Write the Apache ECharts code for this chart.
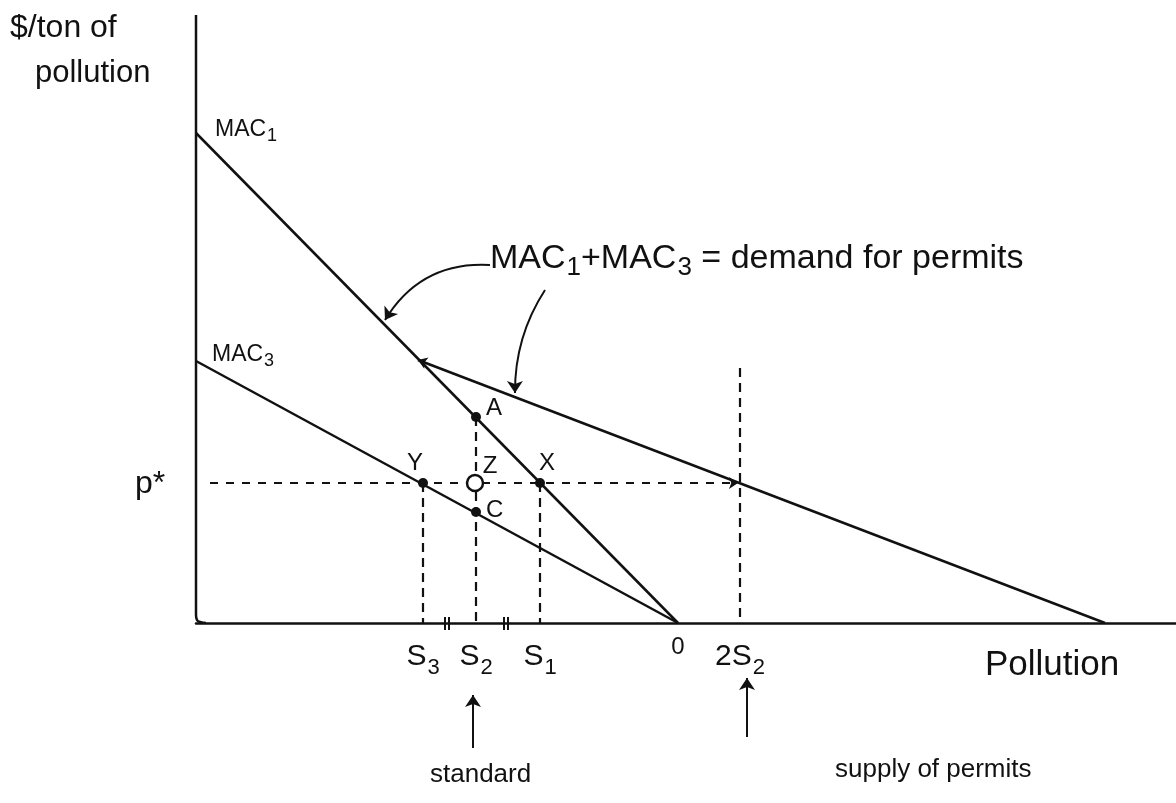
<!DOCTYPE html>
<html><head><meta charset="utf-8">
<script src="https://cdn.jsdelivr.net/npm/echarts@6/dist/echarts.min.js"></script>
<style>html,body{margin:0;padding:0;background:#fff}#c{width:1176px;height:803px}</style>
</head><body><div id="c"></div>
<script>
// ---- data (x: pollution units, y: $/ton units) ----
const xMax = 980, yMax = 608;
const axisCorner = [[0, 608], [0, 8], [1, 3], [4, 1], [10, 0]];
const mac1 = [[0, 490], [482, 0]];
const mac3 = [[0, 262], [482, 0]];
const demand = [[222, 263], [909, 0]];
const pStar = 140;
const ticksX = [227, 280, 344, 482, 544];
const tickLabels = ['{s|S}{b|3}', '{s|S}{b|2}', '{s|S}{b|1}', '{z|0}', '{s|2S}{b|2}'];
const dropLines = [[227, 140], [280, 206], [344, 140], [544, 255]];
const pStarLine = [[14, 140], [542, 140]];
const solidPts = [['Y', 227, 140], ['X', 344, 140], ['A', 280, 206], ['C', 280, 111]];
const openPts = [['Z', 279, 140]];
const curvedArrows = [[[294, 358], [189, 303], -0.3], [[349, 333], [319, 230], -0.15]];
const upArrows = [[[277, -125], [277, -72]], [[551, -114], [551, -55]]];
const eqMarks = [249, 253, 308, 312];

const ink = '#111';
const FONT = 'Liberation Sans';
const chart = echarts.init(document.getElementById('c'));

const labelCfg = {
  Y: {position: 'top', distance: 3, offset: [-8, 0]},
  X: {position: 'top', distance: 3, offset: [7, 0]},
  Z: {position: 'top', distance: 3, offset: [15, 8]},
  A: {position: 'right', distance: 5, offset: [0, -9]},
  C: {position: 'right', distance: 5, offset: [0, -2]}
};
function mkLabel(n) {
  return Object.assign({show: true, formatter: n, color: ink, fontSize: 24, fontFamily: FONT,
    textBorderWidth: 0, opacity: 1}, labelCfg[n]);
}

chart.setOption({
  animation: false,
  backgroundColor: '#fff',
  grid: {left: 196, right: 0, top: 15, bottom: 180, containLabel: false, outerBoundsMode: 'none'},
  xAxis: {
    type: 'value', min: 0, max: xMax,
    axisLine: {show: true, onZero: false, lineStyle: {color: ink, width: 2.5}},
    axisTick: {show: false}, splitLine: {show: false},
    axisLabel: {
      show: true, customValues: ticksX, margin: 12, color: ink, fontFamily: FONT,
      formatter: (v) => tickLabels[ticksX.indexOf(v)] || '',
      rich: {
        s: {fontSize: 30, fontFamily: FONT, color: ink},
        b: {fontSize: 22, fontFamily: FONT, color: ink, padding: [22, 0, 0, 1]},
        z: {fontSize: 24, fontFamily: FONT, color: ink, padding: [0, 0, 10, 0]}
      }
    }
  },
  yAxis: {
    type: 'value', min: 0, max: yMax,
    axisLine: {show: false}, axisTick: {show: false}, axisLabel: {show: false}, splitLine: {show: false}
  },
  series: [
    {type: 'line', data: axisCorner, symbol: 'none', smooth: true, lineStyle: {color: ink, width: 2.5}},
    {type: 'line', data: mac1, symbol: 'none', lineStyle: {color: ink, width: 2.5}},
    {type: 'line', data: mac3, symbol: 'none', lineStyle: {color: ink, width: 2.5}},
    {type: 'lines', coordinateSystem: 'cartesian2d', clip: false,
      symbol: ['arrow', 'none'], symbolSize: 9,
      lineStyle: {color: ink, width: 2.5, opacity: 1},
      data: [{coords: demand}]},
    {type: 'lines', coordinateSystem: 'cartesian2d', polyline: false, clip: false,
      lineStyle: {color: ink, width: 2.2, type: [9, 6], opacity: 1},
      data: dropLines.map(p => ({coords: [[p[0], p[1]], [p[0], 0]]}))},
    {type: 'lines', coordinateSystem: 'cartesian2d', clip: false,
      symbol: ['none', 'arrow'], symbolSize: 9,
      lineStyle: {color: ink, width: 2, type: [8, 8], opacity: 1},
      data: [{coords: pStarLine}]},
    {type: 'lines', coordinateSystem: 'cartesian2d', clip: false,
      symbol: ['none', 'arrow'], symbolSize: 12,
      lineStyle: {color: ink, width: 2, opacity: 1},
      data: curvedArrows.map(a => ({coords: [a[0], a[1]], lineStyle: {curveness: a[2]}}))},
    {type: 'lines', coordinateSystem: 'cartesian2d', clip: false,
      symbol: ['none', 'arrow'], symbolSize: 12,
      lineStyle: {color: ink, width: 2, opacity: 1},
      data: upArrows.map(a => ({coords: a}))},
    {type: 'lines', coordinateSystem: 'cartesian2d', clip: false,
      lineStyle: {color: ink, width: 2, opacity: 1},
      data: eqMarks.map(x => ({coords: [[x, -7], [x, 6]]}))},
    {type: 'scatter', symbol: 'circle', symbolSize: 10, itemStyle: {color: ink, opacity: 1}, clip: false,
      data: solidPts.map(p => ({name: p[0], value: [p[1], p[2]], label: mkLabel(p[0])}))},
    {type: 'scatter', symbol: 'circle', symbolSize: 16, clip: false,
      itemStyle: {color: '#fff', borderColor: ink, borderWidth: 2.5, opacity: 1},
      data: openPts.map(p => ({name: p[0], value: [p[1], p[2]], label: mkLabel(p[0])}))}
  ],
  graphic: [
    {type: 'text', left: 10, top: 12, style: {text: '$/ton of', fontSize: 32, fontFamily: FONT, fill: ink}},
    {type: 'text', left: 35, top: 58, style: {text: 'pollution', fontSize: 31, fontFamily: FONT, fill: ink}},
    {type: 'text', left: 215, top: 118, style: {text: '{m|MAC}{s|1}', rich: {m: {fontSize: 23, fontFamily: FONT, fill: ink}, s: {fontSize: 18, fontFamily: FONT, fill: ink, padding: [14, 0, 0, 1]}}}},
    {type: 'text', left: 212, top: 343, style: {text: '{m|MAC}{s|3}', rich: {m: {fontSize: 23, fontFamily: FONT, fill: ink}, s: {fontSize: 18, fontFamily: FONT, fill: ink, padding: [14, 0, 0, 1]}}}},
    {type: 'text', left: 490, top: 242, style: {text: '{m|MAC}{s|1}{m|+MAC}{s|3}{m| = demand for permits}', rich: {m: {fontSize: 34, fontFamily: FONT, fill: ink}, s: {fontSize: 26, fontFamily: FONT, fill: ink, padding: [18, 0, 0, 1]}}}},
    {type: 'text', left: 135, top: 468, style: {text: 'p*', fontSize: 32, fontFamily: FONT, fill: ink}},
    {type: 'text', left: 985, top: 648, style: {text: 'Pollution', fontSize: 35, fontFamily: FONT, fill: ink}},
    {type: 'text', left: 430, top: 762, style: {text: 'standard', fontSize: 26, fontFamily: FONT, fill: ink}},
    {type: 'text', left: 835, top: 757, style: {text: 'supply of permits', fontSize: 26, fontFamily: FONT, fill: ink}}
  ]
});
</script></body></html>
